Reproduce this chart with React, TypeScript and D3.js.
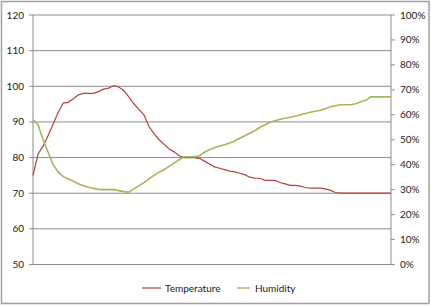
import React from "react";
import * as d3 from "d3";

const temperature = [
  75, 81, 83.2, 86.2, 89.4, 92.7, 95.3, 95.5, 96.5, 97.6,
  98, 98, 98, 98.5, 99.2, 99.5, 100.2, 99.8, 98.8, 97,
  95.1, 93.5, 92, 88.7, 86.7, 85, 83.7, 82.4, 81.6, 80.5,
  80, 80, 80, 79.8, 79, 78.2, 77.4, 77, 76.6, 76.2,
  76, 75.6, 75.2, 74.5, 74.2, 74.2, 73.6, 73.6, 73.6, 73,
  72.6, 72.2, 72.2, 72, 71.6, 71.4, 71.4, 71.4, 71.2, 70.8,
  70.2, 70, 70, 70, 70, 70, 70, 70, 70, 70, 70, 70,
];

const humidity = [
  58, 56, 50, 45, 40, 37, 35.2, 34.3, 33.4, 32.4,
  31.6, 31, 30.5, 30.1, 30, 30, 30, 29.6, 29.2, 29,
  30.3, 31.5, 32.8, 34.3, 35.7, 37, 38, 39.3, 40.6, 42,
  43.2, 43.2, 43.2, 43.6, 45, 46, 46.8, 47.5, 48, 48.7,
  49.5, 50.6, 51.6, 52.6, 53.6, 55, 56, 57, 57.6, 58.2,
  58.6, 59, 59.4, 60, 60.5, 61, 61.4, 61.8, 62.4, 63.2,
  63.6, 64, 64, 64, 64.4, 65.2, 65.8, 67.2, 67.2, 67.2, 67.2, 67.2,
];

const leftTicks = [50, 60, 70, 80, 90, 100, 110, 120];
const rightTicks = [0, 10, 20, 30, 40, 50, 60, 70, 80, 90, 100];
const seriesNames = ["Temperature", "Humidity"];

const W = 431;
const H = 306;
const PL = 33;
const PR = 391;
const PT = 15;
const PB = 264.5;

const TEMP_COLOR = "#B5413C";
const HUM_COLOR = "#9BBB59";
const GRID = "#8c8c8c";
const FONT = "Lato, 'Liberation Sans', sans-serif";

export default function App() {
  const x = d3.scaleLinear().domain([0, temperature.length - 1]).range([PL, PR]);
  const yL = d3.scaleLinear().domain([50, 120]).range([PB, PT]);
  const yR = d3.scaleLinear().domain([0, 100]).range([PB, PT]);

  const tLine = d3
    .line<number>()
    .x((_, i) => x(i))
    .y((d) => yL(d));
  const hLine = d3
    .line<number>()
    .x((_, i) => x(i))
    .y((d) => yR(d));

  return (
    <svg
      width={W}
      height={H}
      style={{ position: "absolute", left: 0, top: 0, background: "#fff" }}
      fontFamily={FONT}
    >
      <rect x={1.5} y={1.5} width={427.5} height={302} fill="#fff" stroke="#a0a0a0" strokeWidth={1.5} />
      {leftTicks.map((t) => (
        <g key={"l" + t}>
          <line x1={PL - 4} x2={PR} y1={yL(t)} y2={yL(t)} stroke={GRID} strokeWidth={1} />
          <text x={24} y={yL(t)} dy="0.35em" textAnchor="end" fontSize={10} fill="#1a1a1a">
            {t}
          </text>
        </g>
      ))}
      {rightTicks.map((t) => (
        <g key={"r" + t}>
          <line x1={PR} x2={PR + 4} y1={yR(t)} y2={yR(t)} stroke={GRID} strokeWidth={1} />
          <text x={400} y={yR(t)} dy="0.35em" textAnchor="start" fontSize={10} fill="#1a1a1a">
            {t + "%"}
          </text>
        </g>
      ))}
      <line x1={PL} x2={PL} y1={PT} y2={PB} stroke={GRID} strokeWidth={1} />
      <line x1={PR} x2={PR} y1={PT} y2={PB} stroke={GRID} strokeWidth={1} />
      <path d={tLine(temperature) || ""} fill="none" stroke={TEMP_COLOR} strokeWidth={1.2} />
      <path d={hLine(humidity) || ""} fill="none" stroke={HUM_COLOR} strokeWidth={1.6} />
      <g>
        <line x1={142} x2={161} y1={288} y2={288} stroke={TEMP_COLOR} strokeWidth={1.2} />
        <text x={165} y={288} dy="0.35em" fontSize={10} fill="#1a1a1a">
          {seriesNames[0]}
        </text>
        <line x1={237} x2={250} y1={288} y2={288} stroke={HUM_COLOR} strokeWidth={1.4} />
        <text x={255} y={288} dy="0.35em" fontSize={10} fill="#1a1a1a">
          {seriesNames[1]}
        </text>
      </g>
    </svg>
  );
}
